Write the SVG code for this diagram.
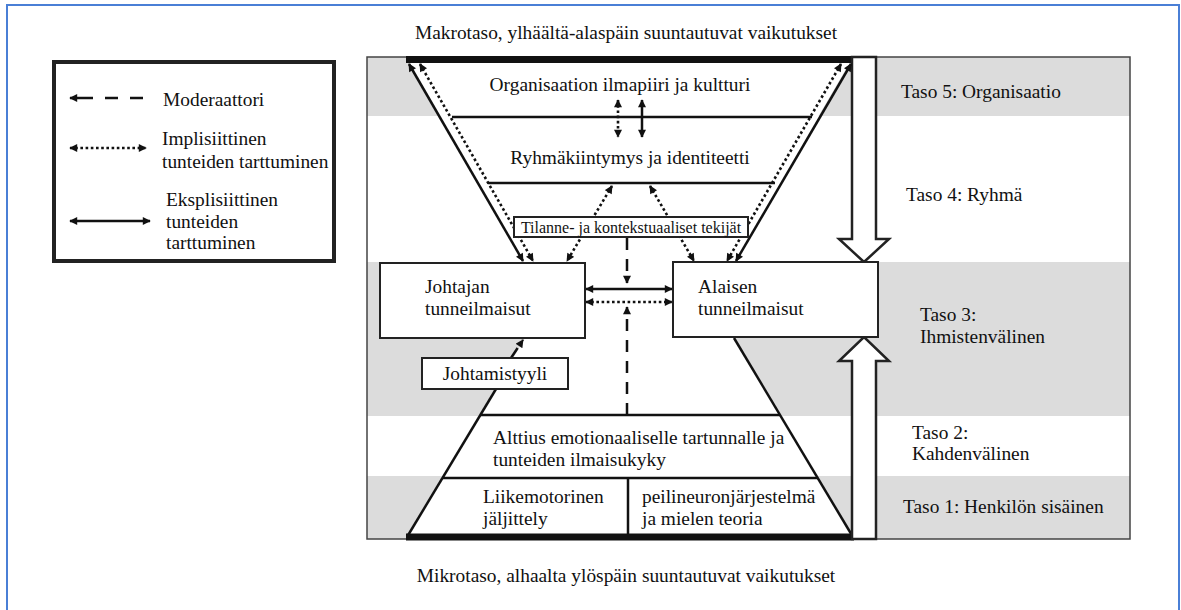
<svg xmlns="http://www.w3.org/2000/svg" width="1181" height="610" viewBox="0 0 1181 610" font-family="'Liberation Serif', 'DejaVu Serif', serif">
<defs>
<style>
text{font-family:'Liberation Serif','DejaVu Serif',serif;font-size:19.4px;fill:#111}
.small{font-size:16px}
.ln{stroke:#111;stroke-width:2.5;fill:none}
.dot{stroke:#111;stroke-width:2.6;stroke-dasharray:2.6 2.6;fill:none}
.dash{stroke:#111;stroke-width:2.5;stroke-dasharray:12 9;fill:none}
.box{fill:#fff;stroke:#222;stroke-width:2}
.bigarrow{fill:#fff;stroke:#222;stroke-width:2.5}
</style>
<marker id="ah" viewBox="0 0 10 10" refX="9" refY="5" markerWidth="9" markerHeight="8" markerUnits="userSpaceOnUse" orient="auto-start-reverse">
<path d="M0,0 L10,5 L0,10 z" fill="#111"/>
</marker>
</defs>
<rect x="0" y="0" width="1181" height="610" fill="#fff"/>
<rect x="7" y="5" width="1172" height="620" fill="none" stroke="#4a7fd6" stroke-width="2"/>

<g id="background">
<rect x="367" y="57" width="763" height="482" fill="#dcdcdc"/>
<rect x="367" y="116" width="763" height="146" fill="#fff"/>
<rect x="367" y="416" width="763" height="60" fill="#fff"/>
<polygon points="406,57 853,57 733,262 734,338 853,537 407,537 525,338 525,262" fill="#fff"/>
<rect x="367" y="57" width="763" height="482" fill="none" stroke="#444" stroke-width="1.5"/>
</g>

<g id="legend">
<rect x="54" y="62" width="280" height="199" fill="#fff" stroke="#222" stroke-width="4"/>
<line x1="93" y1="98" x2="70" y2="98" class="ln" marker-end="url(#ah)"/>
<line x1="105" y1="98" x2="146" y2="98" class="ln" stroke-dasharray="13 12"/>
<text x="163" y="106">Moderaattori</text>
<line x1="70" y1="148" x2="146" y2="148" class="dot" marker-start="url(#ah)" marker-end="url(#ah)"/>
<text x="162" y="145">Implisiittinen</text>
<text x="162" y="168">tunteiden tarttuminen</text>
<line x1="70" y1="221" x2="150" y2="221" class="ln" marker-start="url(#ah)" marker-end="url(#ah)"/>
<text x="166" y="206">Eksplisiittinen</text>
<text x="166" y="228">tunteiden</text>
<text x="166" y="249">tarttuminen</text>
</g>

<g id="labels">
<text x="626" y="39" text-anchor="middle">Makrotaso, ylhäältä-alaspäin suuntautuvat vaikutukset</text>
<text x="626" y="582" text-anchor="middle">Mikrotaso, alhaalta ylöspäin suuntautuvat vaikutukset</text>
<text x="901" y="98">Taso 5: Organisaatio</text>
<text x="906" y="201">Taso 4: Ryhmä</text>
<text x="920" y="321">Taso 3:</text>
<text x="920" y="343">Ihmistenvälinen</text>
<text x="912" y="439">Taso 2:</text>
<text x="912" y="460">Kahdenvälinen</text>
<text x="903" y="513">Taso 1: Henkilön sisäinen</text>
</g>

<g id="structure">
<line x1="406" y1="59.5" x2="854" y2="59.5" stroke="#111" stroke-width="7"/>
<line x1="452" y1="117" x2="812" y2="117" class="ln"/>
<line x1="488" y1="183" x2="775" y2="183" class="ln"/>
<line x1="480" y1="415" x2="780" y2="415" class="ln"/>
<line x1="442" y1="478" x2="818" y2="478" class="ln"/>
<line x1="628" y1="478" x2="628" y2="537" class="ln"/>
<line x1="407" y1="537" x2="496" y2="389" class="ln"/>
<line x1="734" y1="338" x2="853" y2="537" class="ln"/>
<line x1="406" y1="537" x2="854" y2="537" stroke="#111" stroke-width="7"/>
</g>

<g id="big-arrows">
<polygon class="bigarrow" points="852,57 876,57 876,239 889,239 864,262 839,239 852,239"/>
<polygon class="bigarrow" points="852,539 876,539 876,361 889,361 864,337 839,361 852,361"/>
</g>

<g id="connectors">
<line x1="409" y1="64" x2="523" y2="261" class="ln" marker-start="url(#ah)" marker-end="url(#ah)"/>
<line x1="420" y1="64" x2="533" y2="261" class="dot" marker-start="url(#ah)" marker-end="url(#ah)"/>
<line x1="851" y1="64" x2="736" y2="261" class="ln" marker-start="url(#ah)" marker-end="url(#ah)"/>
<line x1="841" y1="64" x2="727" y2="261" class="dot" marker-start="url(#ah)" marker-end="url(#ah)"/>
<line x1="618" y1="100" x2="618" y2="137" class="dot" marker-start="url(#ah)" marker-end="url(#ah)"/>
<line x1="642" y1="100" x2="642" y2="137" class="ln" marker-start="url(#ah)" marker-end="url(#ah)"/>
<line x1="612" y1="186" x2="567" y2="261" class="dot" marker-start="url(#ah)" marker-end="url(#ah)"/>
<line x1="650" y1="186" x2="694" y2="261" class="dot" marker-start="url(#ah)" marker-end="url(#ah)"/>
<line x1="627" y1="238" x2="627" y2="283" class="dash" marker-end="url(#ah)"/>
<line x1="627" y1="415" x2="627" y2="307" class="dash" marker-end="url(#ah)"/>
<line x1="586" y1="289" x2="672" y2="289" class="ln" marker-start="url(#ah)" marker-end="url(#ah)"/>
<line x1="586" y1="302" x2="672" y2="302" class="dot" marker-start="url(#ah)" marker-end="url(#ah)"/>
<line x1="511" y1="358" x2="523" y2="340" class="dash" stroke-dasharray="8 5" marker-end="url(#ah)"/>
</g>

<g id="text-structure">
<text x="620" y="91" text-anchor="middle">Organisaation ilmapiiri ja kultturi</text>
<text x="630" y="164" text-anchor="middle">Ryhmäkiintymys ja identiteetti</text>
<text x="493" y="444">Alttius emotionaaliselle tartunnalle ja</text>
<text x="493" y="466">tunteiden ilmaisukyky</text>
<text x="483" y="503">Liikemotorinen</text>
<text x="483" y="525">jäljittely</text>
<text x="642" y="503">peilineuronjärjestelmä</text>
<text x="642" y="525">ja mielen teoria</text>
</g>

<g id="tilanne">
<rect x="514" y="217" width="234" height="20" class="box" stroke-width="1.5"/>
<text x="631" y="232.5" text-anchor="middle" class="small">Tilanne- ja kontekstuaaliset tekijät</text>
</g>

<g id="johtajan">
<rect x="380" y="263" width="205" height="75" class="box" stroke-width="2.5"/>
<text x="425" y="293">Johtajan</text>
<text x="425" y="315">tunneilmaisut</text>
</g>

<g id="alaisen">
<rect x="673" y="262" width="205" height="75" class="box" stroke-width="2.5"/>
<text x="698" y="293">Alaisen</text>
<text x="698" y="315">tunneilmaisut</text>
</g>

<g id="johtamistyyli">
<rect x="422" y="358" width="146" height="31" class="box" stroke-width="1.5"/>
<text x="495" y="380" text-anchor="middle">Johtamistyyli</text>
</g>
</svg>
